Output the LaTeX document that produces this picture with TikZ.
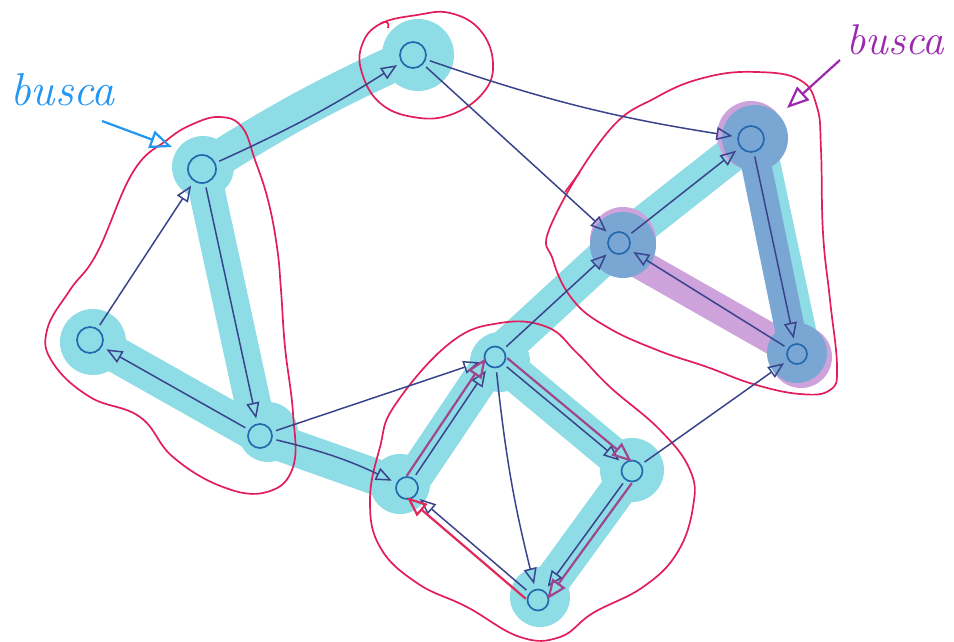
\documentclass[tikz,border=0pt]{standalone}
\usetikzlibrary{arrows.meta,calc}
\definecolor{cyanhl}{RGB}{142,221,230}
\definecolor{darkhl}{RGB}{122,166,212}
\definecolor{purphl}{RGB}{206,162,218}
\definecolor{sccred}{RGB}{226,30,90}
\definecolor{edgecol}{RGB}{58,68,140}
\definecolor{nodecol}{RGB}{35,105,175}
\definecolor{ovlpurple}{RGB}{160,70,140}
\definecolor{ovlred}{RGB}{225,40,90}
\definecolor{buscablue}{RGB}{33,150,243}
\definecolor{buscapurple}{RGB}{155,40,175}
\tikzset{
  vtx/.style={circle,draw=nodecol,line width=1.7pt,minimum size=22pt,inner sep=0pt},
  edge/.style={draw=edgecol,line width=1.5pt,-{Triangle[open,length=16pt,width=13pt]},shorten >=5pt,shorten <=4pt},
  hl/.style={draw=cyanhl,line width=36pt,line cap=round,line join=round},
  sccline/.style={draw=sccred,line width=1.7pt},
  ovl/.style={line width=2.2pt,-{Triangle[open,length=20pt,width=16pt]},shorten >=6pt,shorten <=10pt},
}
\begin{document}
\begin{tikzpicture}[x=1pt,y=-1pt]
\useasboundingbox (0,0) rectangle (954,641);
% vertices positions
\coordinate (pA) at (202,169);
\coordinate (pB) at (90,340);
\coordinate (pC) at (260,436);
\coordinate (pD) at (413,55);
\coordinate (pE) at (495,357);
\coordinate (pF) at (407,488);
\coordinate (pG) at (632,471);
\coordinate (pH) at (538,600);
\coordinate (pI) at (619,243);
\coordinate (pJ) at (751,139);
\coordinate (pK) at (797,354);

% cyan highlight
\draw[hl] (pD) to[bend right=4] (pA) -- (pC) -- (pB);
\draw[hl] (pC) -- (pF) -- (pE) -- (pI) -- (pJ);
\draw[hl] ($(pJ)+(6,0)$) -- ($(pK)+(6,0)$);
\draw[hl] (pE) -- (pG) -- (pH);
\fill[cyanhl] (418,55) circle[radius=36];
\fill[cyanhl] (203,167) circle[radius=31];
\fill[cyanhl] (93,342) circle[radius=33];
\fill[cyanhl] (268,432) circle[radius=30];
\fill[cyanhl] (400,484) circle[radius=30];
\fill[cyanhl] (500,362) circle[radius=30];
\fill[cyanhl] (632,470) circle[radius=32];
\fill[cyanhl] (540,597) circle[radius=30];

% purple highlight
\draw[draw=purphl,line width=30pt,line cap=round] ($(pI)+(12,16)$) -- ($(pK)+(-6,-4)$);
\fill[purphl] (623,240) circle[radius=33];
\fill[purphl] (751,135) circle[radius=34];
\fill[purphl] (801,357) circle[radius=31];
% dark highlight
\draw[draw=darkhl,line width=30pt,line cap=round] (pJ) -- ($(pK)+(-2,0)$);
\fill[darkhl] (623,245) circle[radius=33];
\fill[darkhl] (755,138) circle[radius=33];
\fill[darkhl] (797,353) circle[radius=30];

% SCC outlines
\draw[sccline] plot[smooth cycle,tension=0.7] coordinates {(417,15) (450,13) (480,30) (493,63) (483,93) (450,115) (413,117) (380,103) (362,73) (362,45) (380,24)};
\draw[sccline] (380,24) .. controls (386,20) and (390,22) .. (388,28);
\draw[sccline] plot[smooth cycle,tension=0.7] coordinates {(97,253) (133,172) (167,140) (193,124) (220,117) (242,127) (255,160) (268,200) (277,247) (281,290) (285,347) (293,413) (293,467) (267,492) (223,487) (173,457) (140,417) (90,397) (53,363) (47,330) (70,290)};
\draw[sccline] plot[smooth cycle,tension=0.7] coordinates {(450,343) (500,323) (547,327) (577,353) (610,387) (660,430) (690,470) (693,507) (677,553) (643,587) (593,613) (560,637) (520,637) (467,607) (417,583) (380,547) (370,500) (380,447) (395,405)};
\draw[sccline] plot[smooth cycle,tension=0.7] coordinates {(607,133) (657,97) (707,77) (757,72) (800,80) (817,107) (821,150) (823,233) (830,300) (837,367) (830,390) (800,394) (753,384) (707,367) (657,350) (607,327) (573,300) (553,260) (551,225)};
\draw[sccline] (580,172) -- (565,192);

% vertices
\node[vtx,minimum size=28pt] (A) at (pA) {};
\node[vtx,minimum size=26pt] (B) at (pB) {};
\node[vtx,minimum size=24pt] (C) at (pC) {};
\node[vtx,minimum size=26pt] (D) at (pD) {};
\node[vtx,minimum size=21pt] (E) at (pE) {};
\node[vtx,minimum size=22pt] (F) at (pF) {};
\node[vtx,minimum size=21pt] (G) at (pG) {};
\node[vtx,minimum size=21pt] (H) at (pH) {};
\node[vtx,minimum size=22pt] (I) at (pI) {};
\node[vtx,minimum size=26pt] (J) at (pJ) {};
\node[vtx,minimum size=20pt] (K) at (pK) {};

% edges
\draw[edge] (B) -- (A);
\draw[edge] (A) -- (C);
\draw[edge] (C) -- (B);
\draw[edge] (A) to[bend right=4] (D);
\draw[edge] (D) to[bend right=5] (J);
\draw[edge] (D) -- (I);
\draw[edge] (C) -- (E);
\draw[edge] (C) to[bend left=6] (F);
\draw[edge] (F) -- (E);
\draw[edge] (E) -- (G);
\draw[edge] (E) to[bend right=4] (H);
\draw[edge] (G) -- (H);
\draw[edge] (H) -- (F);
\draw[edge] (G) -- (K);
\draw[edge] (E) -- (I);
\draw[edge] (I) -- (J);
\draw[edge] (J) -- (K);
\draw[edge] (K) -- (I);

% colored overlay arrows
\draw[ovl,draw=ovlpurple] ($(F)!7pt!90:(E)$) -- ($(E)!7pt!-90:(F)$);
\draw[ovl,draw=ovlpurple] ($(E)!7pt!90:(G)$) -- ($(G)!7pt!-90:(E)$);
\draw[ovl,draw=ovlpurple] ($(G)!7pt!90:(H)$) -- ($(H)!7pt!-90:(G)$);
\draw[ovl,draw=ovlred] ($(H)!7pt!90:(F)$) -- ($(F)!7pt!-90:(H)$);

% labels
\node[anchor=base west,inner sep=0pt,text=buscablue,font=\fontsize{46}{46}\selectfont\itshape] (lb1) at (10,105) {busca};
\coordinate (b1s) at (102,121);
\coordinate (b1e) at (172,147);
\draw[buscablue,line width=2.2pt,-{Triangle[open,length=22pt,width=18pt]}] (b1s) -- (b1e);
\node[anchor=base west,inner sep=0pt,text=buscapurple,font=\fontsize{43}{43}\selectfont\itshape] (lb2) at (846,54) {busca};
\coordinate (b2s) at (840,60);
\coordinate (b2e) at (787,108);
\draw[buscapurple,line width=2.2pt,-{Triangle[open,length=22pt,width=18pt]}] (b2s) -- (b2e);
\end{tikzpicture}
\end{document}
